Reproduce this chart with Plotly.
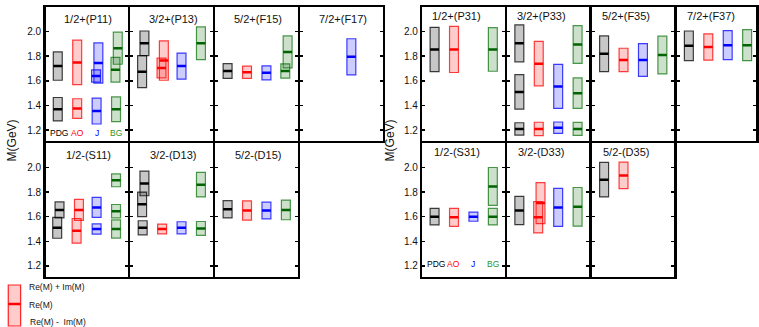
import plotly.graph_objects as go

W, H = 759, 327

# ---------------- data ----------------
titles = ["1/2+(P11)", "3/2+(P13)", "5/2+(F15)", "7/2+(F17)",
          "1/2-(S11)", "3/2-(D13)", "5/2-(D15)",
          "1/2+(P31)", "3/2+(P33)", "5/2+(F35)", "7/2+(F37)",
          "1/2-(S31)", "3/2-(D33)", "5/2-(D35)"]
models = ["PDG", "AO", "J", "BG"]
y_ticks = [1.2, 1.4, 1.6, 1.8, 2.0]
y_ticktext = ["1.2", "1.4", "1.6", "1.8", "2.0"]

# PDG
pdg_panel = [0, 0, 1, 1, 2, 4, 4, 5, 5, 5, 6, 7, 8, 8, 8, 9, 10, 11, 12, 13]
pdg_re = [1.37, 1.72, 1.675, 1.905, 1.68, 1.51, 1.655, 1.51, 1.70, 1.87, 1.66,
          1.855, 1.21, 1.51, 1.905, 1.82, 1.885, 1.60, 1.65, 1.90]
pdg_im = [0.095, 0.115, 0.13, 0.10, 0.06, 0.085, 0.065, 0.057, 0.10, 0.10, 0.07,
          0.18, 0.05, 0.14, 0.15, 0.145, 0.12, 0.067, 0.115, 0.14]

# AO
ao_panel = [0, 0, 1, 1, 2, 4, 4, 5, 6, 7, 8, 8, 9, 10, 11, 12, 12, 13]
ao_re = [1.375, 1.75, 1.705, 1.765, 1.67, 1.485, 1.655, 1.50, 1.65,
         1.855, 1.21, 1.74, 1.77, 1.875, 1.595, 1.595, 1.71, 1.935]
ao_im = [0.08, 0.18, 0.08, 0.16, 0.05, 0.10, 0.085, 0.04, 0.078,
         0.187, 0.054, 0.18, 0.095, 0.107, 0.073, 0.127, 0.167, 0.107]

# J
j_panel = [0, 0, 0, 1, 2, 3, 4, 4, 5, 6, 8, 8, 9, 10, 11, 12]
j_re = [1.355, 1.64, 1.745, 1.72, 1.665, 1.795, 1.50, 1.675, 1.51, 1.65,
        1.22, 1.555, 1.77, 1.89, 1.60, 1.675]
j_im = [0.105, 0.05, 0.163, 0.106, 0.057, 0.147, 0.042, 0.081, 0.049, 0.068,
        0.046, 0.179, 0.133, 0.118, 0.037, 0.154]

# BG
bg_panel = [0, 0, 0, 1, 2, 2, 4, 4, 4, 5, 5, 6, 7, 8, 8, 8, 9, 10, 11, 11, 12]
bg_re = [1.37, 1.69, 1.865, 1.905, 1.68, 1.835, 1.50, 1.645, 1.895, 1.505, 1.86,
         1.655, 1.855, 1.21, 1.50, 1.895, 1.81, 1.89, 1.60, 1.845, 1.68]
bg_im = [0.10, 0.10, 0.13, 0.133, 0.058, 0.13, 0.074, 0.054, 0.052, 0.056, 0.10,
         0.08, 0.177, 0.053, 0.124, 0.153, 0.153, 0.126, 0.067, 0.154, 0.157]

# ---------------- styles / layout geometry ----------------
FONT = "Liberation Sans, Arial, sans-serif"
line_col = {"PDG": "#000000", "AO": "#ff0000", "J": "#0000ff", "BG": "#006400"}
fill_col = {"PDG": "rgba(0,0,0,0.22)", "AO": "rgba(255,0,0,0.2)",
            "J": "rgba(0,0,255,0.2)", "BG": "rgba(0,100,0,0.2)"}
edge_col = {"PDG": "rgba(0,0,0,0.75)", "AO": "rgba(255,0,0,0.75)",
            "J": "rgba(0,0,255,0.75)", "BG": "rgba(0,110,0,0.7)"}
text_col = {"PDG": "#000000", "AO": "#ff0000", "J": "#0000ff", "BG": "#2a962a"}

LW = 2.5
group_x = [[44.5 + 85.25 * i for i in range(5)], [422.8 + 85.1 * i for i in range(5)]]
row_y = [6.2, 142.0, 277.8]
slots = [(0, 0, 0), (0, 0, 1), (0, 0, 2), (0, 0, 3), (0, 1, 0), (0, 1, 1), (0, 1, 2),
         (1, 0, 0), (1, 0, 1), (1, 0, 2), (1, 0, 3), (1, 1, 0), (1, 1, 1), (1, 1, 2)]
PX_UNIT = 19.5
FIRST = 13.5
BW = 0.46
YR = [1.114, 2.196]

data = {"PDG": (pdg_panel, pdg_re, pdg_im), "AO": (ao_panel, ao_re, ao_im),
        "J": (j_panel, j_re, j_im), "BG": (bg_panel, bg_re, bg_im)}


def offsets(res, ims):
    out = []
    for i, (r, im) in enumerate(zip(res, ims)):
        lo, hi = r - im, r + im
        ov = [j for j, (r2, im2) in enumerate(zip(res, ims))
              if j != i and r2 - im2 < hi and r2 + im2 > lo]
        if not ov:
            out.append(0.0)
        elif all(res[j] < r for j in ov):
            out.append(0.09)
        else:
            out.append(-0.03)
    return out


fig = go.Figure()
layout = {}
annotations = []

for k, (g, r, c) in enumerate(slots):
    n = k + 1
    xs = group_x[g]
    L = xs[c] + LW / 2
    R = min(xs[c + 1] - LW / 2, W)
    T = row_y[r] + LW / 2
    B = row_y[r + 1] - LW / 2
    x0 = 1 - (FIRST - LW / 2) / PX_UNIT
    x1 = x0 + (R - L) / PX_UNIT
    layout["xaxis%d" % n] = dict(domain=[L / W, R / W], range=[x0, x1], anchor="y%d" % n,
                                 showline=True, mirror=True, linewidth=LW, linecolor="black",
                                 ticks="", showticklabels=False, showgrid=False, zeroline=False,
                                 fixedrange=True)
    layout["yaxis%d" % n] = dict(domain=[(H - B) / H, (H - T) / H], range=YR, anchor="x%d" % n,
                                 showline=True, mirror="ticks", linewidth=LW, linecolor="black",
                                 ticks="inside", ticklen=3, tickwidth=1.5, tickcolor="black",
                                 tickvals=y_ticks, ticktext=y_ticktext,
                                 showticklabels=(c == 0),
                                 tickfont=dict(family=FONT, size=10, color="#111"),
                                 showgrid=False, zeroline=False, fixedrange=True)
    # panel title
    ty = T + (12 if g == 0 else 8.5)
    tx = (xs[c] + xs[c + 1]) / 2 + (1.5 if g == 0 else -7)
    annotations.append(dict(text=titles[k], x=tx / W, y=(H - ty) / H, xref="paper", yref="paper",
                            xanchor="center", yanchor="middle", showarrow=False,
                            font=dict(family=FONT, size=11, color="#111")))

    for mi, m in enumerate(models):
        pan, res, ims = data[m]
        idx = [i for i, p in enumerate(pan) if p == k]
        if not idx:
            continue
        rr = [res[i] for i in idx]
        ii = [ims[i] for i in idx]
        offs = offsets(rr, ii)
        xpos = [mi + 1 + o for o in offs]
        fig.add_trace(go.Bar(x=xpos, y=[2 * v for v in ii], base=[a - b for a, b in zip(rr, ii)],
                             width=BW, marker=dict(color=fill_col[m],
                                                   line=dict(color=edge_col[m], width=1.2)),
                             xaxis="x%d" % n, yaxis="y%d" % n, showlegend=False, hoverinfo="skip"))
        lx, ly = [], []
        for xp, rv in zip(xpos, rr):
            lx += [xp - BW / 2, xp + BW / 2, None]
            ly += [rv, rv, None]
        fig.add_trace(go.Scatter(x=lx, y=ly, mode="lines", line=dict(color=line_col[m], width=2.5),
                                 xaxis="x%d" % n, yaxis="y%d" % n, showlegend=False,
                                 hoverinfo="skip"))

# model labels inside P11 and S31
for k, ysh in [(0, -3), (11, 2)]:
    n = k + 1
    for mi, m in enumerate(models):
        annotations.append(dict(text=m, x=mi + 1 + (0.05 if mi == 0 else 0), y=1.2,
                                xref="x%d" % n, yref="y%d" % n,
                                yshift=ysh, xanchor="center", yanchor="middle", showarrow=False,
                                font=dict(family=FONT, size=8.5, color=text_col[m])))

# y axis titles
for xc in [12.5, 392]:
    annotations.append(dict(text="M(GeV)", x=xc / W, y=(H - 140) / H, xref="paper", yref="paper",
                            textangle=-90, xanchor="center", yanchor="middle", showarrow=False,
                            font=dict(family=FONT, size=12, color="#111")))

# legend key (bottom left)
shapes = [
    dict(type="rect", xref="paper", yref="paper", x0=8.3 / W, x1=20.7 / W,
         y0=(H - 326) / H, y1=(H - 285) / H, fillcolor="rgba(255,0,0,0.2)",
         line=dict(color="rgba(255,0,0,0.85)", width=1.2)),
    dict(type="line", xref="paper", yref="paper", x0=8.3 / W, x1=20.7 / W,
         y0=(H - 304) / H, y1=(H - 304) / H, line=dict(color="red", width=2.5)),
]
for txt, xl, yc in [("Re(M) + Im(M)", 27.5, 287), ("Re(M)", 27.5, 305),
                    ("Re(M) -\u00a0 Im(M)", 28.5, 322)]:
    annotations.append(dict(text=txt, x=xl / W, y=(H - yc) / H, xref="paper", yref="paper",
                            xanchor="left", yanchor="middle", showarrow=False,
                            font=dict(family=FONT, size=8.5, color="#111")))

fig.update_layout(width=W, height=H, margin=dict(l=0, r=0, t=0, b=0, pad=0),
                  paper_bgcolor="white", plot_bgcolor="white", barmode="overlay",
                  hovermode=False,
                  annotations=annotations, shapes=shapes, showlegend=False, **layout)

fig.write_html("out.html", config={"displayModeBar": False, "staticPlot": True},
               post_script="document.body.style.margin='0';document.body.style.overflow='hidden';")
